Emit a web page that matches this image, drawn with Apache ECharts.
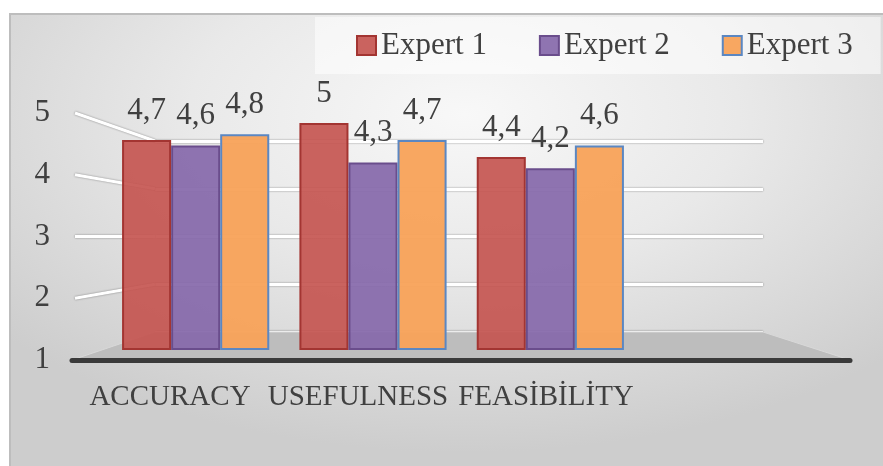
<!DOCTYPE html>
<html>
<head>
<meta charset="utf-8">
<script src="https://cdn.jsdelivr.net/npm/echarts@6/dist/echarts.min.js"></script>
<style>
  html, body { margin: 0; padding: 0; background: #ffffff; }
  #wrap { position: relative; width: 883px; height: 466px; }
  #bg {
    position: absolute; left: 9px; top: 13px; width: 874px; height: 453px;
    box-sizing: border-box; border-top: 2px solid #bdbdbd; border-left: 2px solid #bdbdbd;
    background: radial-gradient(ellipse 70% 75% at 52% 22%, #f8f8f8 0%, #e9e9e9 45%, #cdcdcd 100%);
  }
  #char1 { position: absolute; left: 0; top: 0; width: 883px; height: 466px; }
</style>
</head>
<body>
<div id="wrap">
  <div id="bg"></div>
  <div id="char1"></div>
</div>
<script>
var categories = ['ACCURACY', 'USEFULNESS', 'FEASİBİLİTY'];
var expert1 = [4.7, 5, 4.4];
var expert2 = [4.6, 4.3, 4.2];
var expert3 = [4.8, 4.7, 4.6];
var yTicks = [1, 2, 3, 4, 5];

var textColor = '#404040';
var serif = "'Liberation Serif', 'DejaVu Serif', serif";

function commaLabel(p) {
    return String(p.value).replace('.', ',');
}

function barSeries(name, data, fill, border) {
    return {
        name: name,
        type: 'bar',
        xAxisIndex: 0,
        yAxisIndex: 0,
        data: data,
        barGap: '0%',
        barCategoryGap: '17%',
        itemStyle: {
            color: fill,
            borderColor: border,
            borderWidth: 2
        },
        label: {
            show: true,
            position: 'top',
            distance: 14,
            formatter: commaLabel,
            fontFamily: serif,
            fontSize: 31,
            color: textColor
        }
    };
}

var myChart = echarts.init(document.getElementById('char1'));

var option = {
    animation: false,
    textStyle: { fontFamily: serif },
    legend: {
        left: 315,
        top: 17,
        padding: [13, 28, 13, 41],
        backgroundColor: 'rgba(255,255,255,0.55)',
        itemWidth: 19,
        itemHeight: 19,
        itemGap: 52,
        icon: 'rect',
        textStyle: { fontFamily: serif, fontSize: 31, color: textColor },
        data: ['Expert 1', 'Expert 2', 'Expert 3']
    },
    grid: [
        // bars
        { left: 107, right: 244, top: 123, bottom: 117 },
        // back wall
        { left: 155, right: 120, top: 141, bottom: 134 },
        // value labels + front edge
        { left: 72, right: 33, top: 113, bottom: 106 },
        // category labels
        { left: 76, right: 243, top: 113, bottom: 106 }
    ],
    xAxis: [
        { gridIndex: 0, type: 'category', data: categories, show: false },
        { gridIndex: 1, type: 'value', min: 0, max: 1, show: false },
        {
            gridIndex: 2, type: 'value', min: 0, max: 1, z: 5,
            axisLine: { show: true, onZero: false, lineStyle: { color: '#3a3a3a', width: 5, cap: 'round' } },
            axisTick: { show: false }, axisLabel: { show: false }, splitLine: { show: false }
        },
        {
            gridIndex: 3, type: 'category', data: categories,
            axisLine: { show: false }, axisTick: { show: false }, splitLine: { show: false },
            axisLabel: { interval: 0, margin: 23, fontFamily: serif, fontSize: 29, color: textColor }
        }
    ],
    yAxis: [
        { gridIndex: 0, type: 'value', min: 1, max: 5, show: false },
        {
            gridIndex: 1, type: 'value', min: 1, max: 5, interval: 1,
            axisLine: { show: false }, axisTick: { show: false }, axisLabel: { show: false },
            splitLine: { show: true, lineStyle: { color: '#ffffff', width: 3, shadowColor: 'rgba(0,0,0,0.45)', shadowBlur: 2 } }
        },
        {
            gridIndex: 2, type: 'value', min: 1, max: 5, interval: 1,
            axisLine: { show: false }, axisTick: { show: false }, splitLine: { show: false },
            axisLabel: { margin: 22, fontFamily: serif, fontSize: 31, color: textColor }
        },
        { gridIndex: 3, type: 'value', min: 1, max: 5, show: false }
    ],
    series: [
        barSeries('Expert 1', expert1, 'rgba(196,82,78,0.9)', '#a33532'),
        barSeries('Expert 2', expert2, 'rgba(134,104,170,0.92)', '#6a4d8c'),
        barSeries('Expert 3', expert3, 'rgba(248,162,88,0.95)', '#5b87c2')
    ]
};

myChart.setOption(option);

// floor and side-wall lines, placed from the axes' own scales
var backL = myChart.convertToPixel({ xAxisIndex: 1, yAxisIndex: 1 }, [0, 1]);
var backR = myChart.convertToPixel({ xAxisIndex: 1, yAxisIndex: 1 }, [1, 1]);
var frontL = myChart.convertToPixel({ xAxisIndex: 2, yAxisIndex: 2 }, [0, 1]);
var frontR = myChart.convertToPixel({ xAxisIndex: 2, yAxisIndex: 2 }, [1, 1]);

var elements = [{
    type: 'polygon',
    z: 1,
    shape: { points: [frontL, frontR, backR, backL] },
    style: { fill: '#bdbdbd', stroke: '#d8d8d8', lineWidth: 1 }
}];
yTicks.slice(1).forEach(function(v) {
    var a = myChart.convertToPixel({ xAxisIndex: 2, yAxisIndex: 2 }, [0, v]);
    var b = myChart.convertToPixel({ xAxisIndex: 1, yAxisIndex: 1 }, [0, v]);
    elements.push({
        type: 'line',
        z: 0,
        shape: { x1: a[0] + 3, y1: a[1], x2: b[0], y2: b[1] },
        style: { stroke: '#ffffff', lineWidth: 3, shadowColor: 'rgba(0,0,0,0.45)', shadowBlur: 2 }
    });
});
myChart.setOption({ graphic: { elements: elements } });

window.addEventListener('resize', function() { myChart.resize(); });
</script>
</body>
</html>
